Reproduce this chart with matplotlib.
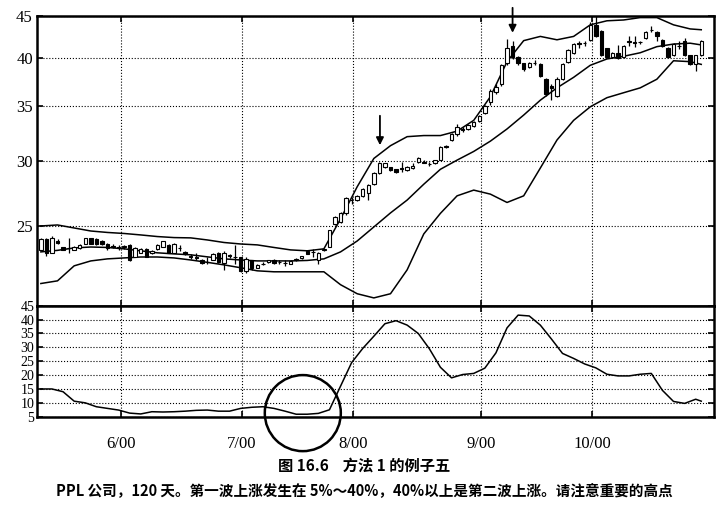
import numpy as np
import matplotlib.pyplot as plt
from matplotlib.patches import Ellipse
from matplotlib.ticker import NullLocator

plt.rcParams['font.family'] = ['Liberation Serif', 'DejaVu Serif']
cjk = ['Noto Sans CJK SC', 'DejaVu Sans']

# 日K线 (PPL 公司, 120 天)
opens = [23.40, 24.10, 23.20, 23.95, 23.55, 23.50, 23.40, 23.50, 23.80, 24.15,
         24.10, 24.00, 23.80, 23.62, 23.57, 23.62, 23.70, 22.95, 23.20, 23.45,
         23.15, 23.45, 23.60, 23.70, 23.20, 23.52, 23.25, 22.97, 22.92, 22.75,
         22.62, 22.75, 23.20, 22.55, 23.02, 22.95, 22.90, 22.05, 22.70, 22.25,
         22.50, 22.58, 22.70, 22.60, 22.55, 22.50, 22.70, 22.85, 23.30, 23.25,
         22.70, 23.35, 23.60, 25.15, 25.25, 25.90, 26.90, 26.90, 27.20, 27.40,
         28.10, 29.00, 29.50, 29.45, 29.30, 29.40, 29.20, 29.40, 29.90, 29.90,
         29.75, 29.80, 30.10, 31.25, 31.80, 32.30, 32.80, 32.80, 33.10, 33.50,
         34.30, 35.40, 36.40, 37.20, 39.40, 41.40, 40.10, 39.40, 39.00, 39.50,
         39.30, 37.70, 37.00, 36.00, 37.70, 39.60, 40.60, 41.70, 41.75, 42.10,
         43.90, 43.20, 41.10, 40.10, 40.60, 40.10, 41.90, 41.80, 41.80, 42.30,
         43.30, 43.00, 42.10, 41.20, 40.30, 41.40, 42.00, 40.30, 39.30, 40.30]
highs = [24.15, 24.15, 24.30, 24.10, 23.60, 24.20, 23.65, 23.80, 24.20, 24.20,
         24.15, 24.05, 23.85, 23.75, 23.70, 23.70, 23.75, 23.55, 23.50, 23.50,
         23.35, 23.75, 24.00, 23.75, 23.85, 23.70, 23.30, 23.10, 23.20, 22.80,
         22.90, 23.15, 23.25, 23.30, 23.10, 23.70, 22.95, 22.95, 22.75, 22.45,
         22.60, 22.75, 22.80, 22.70, 22.70, 22.70, 22.85, 23.00, 23.35, 23.45,
         23.25, 23.45, 24.75, 25.70, 26.00, 27.10, 27.10, 27.30, 27.80, 28.10,
         29.10, 29.90, 29.85, 29.50, 29.35, 29.90, 29.60, 29.80, 30.30, 30.10,
         29.90, 30.10, 31.30, 31.40, 32.40, 33.30, 33.00, 33.30, 33.50, 34.10,
         35.10, 36.70, 37.20, 39.30, 42.20, 41.90, 40.20, 39.50, 39.60, 39.80,
         39.40, 37.80, 37.20, 37.90, 39.40, 41.00, 41.70, 42.00, 42.00, 44.20,
         45.00, 43.30, 41.20, 40.70, 41.50, 41.50, 42.50, 42.50, 42.00, 43.10,
         43.80, 43.10, 42.20, 41.30, 41.70, 41.90, 42.30, 40.40, 40.40, 42.10]
lows = [23.35, 23.00, 23.15, 23.75, 23.35, 23.20, 23.35, 23.45, 23.75, 23.75,
        23.70, 23.70, 23.40, 23.50, 23.40, 23.45, 22.65, 22.90, 23.15, 22.90,
        23.10, 23.40, 23.55, 23.15, 23.15, 23.30, 23.05, 22.80, 22.70, 22.45,
        22.45, 22.70, 22.55, 22.10, 22.85, 22.50, 21.95, 21.90, 22.10, 22.20,
        22.40, 22.55, 22.50, 22.45, 22.35, 22.45, 22.65, 22.80, 23.10, 22.95,
        22.45, 23.30, 23.55, 25.10, 25.20, 25.80, 26.60, 26.80, 27.10, 26.90,
        28.00, 28.90, 29.40, 29.15, 29.00, 29.10, 29.15, 29.35, 29.85, 29.80,
        29.60, 29.70, 30.05, 31.10, 31.70, 32.20, 32.50, 32.70, 33.00, 33.40,
        34.20, 35.10, 36.20, 37.00, 39.20, 39.90, 39.20, 38.60, 38.90, 39.20,
        37.90, 36.00, 35.60, 35.90, 37.60, 39.50, 40.50, 41.20, 41.40, 42.00,
        42.40, 40.20, 40.00, 40.00, 39.90, 40.00, 41.40, 41.30, 41.60, 42.20,
        43.00, 42.00, 41.30, 40.00, 40.20, 41.00, 40.20, 39.20, 38.60, 40.20]
closes = [24.10, 23.20, 24.20, 23.85, 23.40, 23.48, 23.60, 23.72, 24.15, 23.80,
          23.80, 23.75, 23.50, 23.58, 23.53, 23.58, 22.75, 23.50, 23.45, 22.95,
          23.30, 23.70, 23.95, 23.20, 23.80, 23.48, 23.10, 22.93, 22.88, 22.55,
          22.58, 23.10, 22.60, 23.20, 22.98, 22.90, 22.05, 22.80, 22.20, 22.40,
          22.48, 22.72, 22.55, 22.58, 22.52, 22.65, 22.82, 22.97, 23.12, 23.22,
          23.20, 23.42, 24.70, 25.60, 25.90, 27.00, 26.85, 27.20, 27.75, 28.00,
          29.00, 29.80, 29.80, 29.20, 29.05, 29.35, 29.50, 29.60, 30.20, 29.85,
          29.70, 30.05, 31.20, 31.20, 32.30, 33.00, 32.70, 33.20, 33.40, 34.00,
          35.00, 36.50, 36.90, 39.20, 41.10, 40.10, 39.40, 38.80, 39.50, 39.45,
          38.00, 36.20, 36.80, 37.70, 39.30, 40.90, 41.60, 41.65, 41.70, 43.90,
          42.50, 40.30, 40.10, 40.60, 40.00, 41.40, 41.85, 41.75, 41.80, 43.00,
          43.25, 42.50, 41.40, 40.10, 41.60, 41.35, 40.30, 39.30, 40.30, 42.00]

# 布林线 (每 3 天读一个点)
band_days = [0, 3, 6, 9, 12, 15, 18, 21, 24, 27, 30, 33, 36, 39, 42, 45, 48, 51,
             54, 57, 60, 63, 66, 69, 72, 75, 78, 81, 84, 87, 90, 93, 96, 99, 102,
             105, 108, 111, 114, 117, 119]
upper = [25.00, 25.07, 24.86, 24.65, 24.55, 24.48, 24.38, 24.27, 24.20, 24.18,
         24.04, 23.87, 23.77, 23.71, 23.54, 23.38, 23.32, 23.45, 25.50, 27.90,
         30.20, 31.30, 32.10, 32.20, 32.20, 32.60, 33.60, 35.90, 39.60, 42.00,
         42.50, 42.10, 42.50, 43.90, 44.40, 44.50, 44.80, 44.80, 43.90, 43.40,
         43.30]
middle = [23.25, 23.35, 23.51, 23.57, 23.54, 23.45, 23.32, 23.19, 23.12, 23.06,
          22.93, 22.80, 22.73, 22.67, 22.67, 22.67, 22.70, 22.80, 23.25, 23.97,
          24.93, 25.93, 26.88, 28.10, 29.30, 30.06, 30.80, 31.70, 32.80, 34.10,
          35.55, 36.80, 37.90, 39.20, 39.90, 40.20, 40.60, 41.30, 41.60, 41.70,
          41.50]
lower = [21.28, 21.44, 22.36, 22.67, 22.80, 22.86, 22.92, 22.92, 22.86, 22.73,
         22.58, 22.42, 22.24, 22.05, 21.99, 21.99, 21.99, 21.99, 21.21, 20.68,
         20.44, 20.68, 22.11, 24.45, 25.90, 27.20, 27.64, 27.33, 26.70, 27.20,
         29.40, 31.80, 33.60, 34.90, 35.80, 36.30, 36.80, 37.70, 39.70, 39.60,
         39.30]

# 带宽 (%)
bw_days = list(range(0, 120, 2)) + [119]
bandwidth = [15.0, 15.0, 14.0, 10.6, 10.0, 8.6, 8.0, 7.4, 6.3, 6.0,
             6.8, 6.7, 6.8, 7.0, 7.3, 7.4, 7.0, 7.0, 8.0, 8.4,
             8.6, 8.0, 7.0, 5.9, 5.9, 6.2, 7.5, 16.0, 24.5, 29.6,
             34.0, 38.5, 39.6, 38.0, 35.0, 29.5, 22.8, 19.0, 20.2, 20.6,
             22.5, 28.0, 37.0, 41.6, 41.3, 38.0, 33.0, 27.8, 26.0, 24.0,
             22.6, 20.3, 19.7, 19.7, 20.3, 20.6, 14.5, 10.5, 9.8, 11.3,
             10.6]

month_pos = [14.4, 36.2, 56.2, 79.3, 99.3]
month_labels = ['6/00', '7/00', '8/00', '9/00', '10/00']
price_ticks = [25, 30, 35, 40, 45]
bw_ticks = [5, 10, 15, 20, 25, 30, 35, 40, 45]

fig = plt.figure(figsize=(7.28, 5.11), dpi=100)
ax1 = fig.add_axes([0.0508, 0.4018, 0.930, 0.5669])
ax2 = fig.add_axes([0.0508, 0.1845, 0.930, 0.2173], sharex=ax1)

# 上图: K线 + 布林线
days = np.arange(len(closes))
o = np.array(opens)
c = np.array(closes)
up = c >= o
body_lo = np.minimum(o, c)
body_h = np.maximum(np.abs(c - o), 0.02)
ax1.set_yscale('log')
ax1.vlines(days, lows, highs, color='black', lw=0.9, zorder=2)
ax1.bar(days[up], body_h[up], bottom=body_lo[up], width=0.62,
        facecolor='white', edgecolor='black', lw=0.8, zorder=3)
ax1.bar(days[~up], body_h[~up], bottom=body_lo[~up], width=0.62,
        facecolor='black', edgecolor='black', lw=0.8, zorder=3)
for band in (upper, middle, lower):
    ax1.plot(band_days, band, color='black', lw=1.1, zorder=2)

ax1.set_xlim(-0.7, 121.3)
ax1.set_ylim(20.0, 45.0)
ax1.set_yticks(price_ticks, labels=[str(t) for t in price_ticks])
ax1.yaxis.set_minor_locator(NullLocator())
ax1.set_xticks(month_pos)
ax1.tick_params(labelbottom=False)
ax1.grid(True, ls=':', color='black', lw=0.8)

# 两个箭头
arrow = dict(arrowstyle='-|>', color='black', lw=1.3, mutation_scale=11)
ax1.annotate('', xy=(61.1, 31.1), xytext=(61.1, 34.3), arrowprops=arrow)
ax1.annotate('', xy=(85.0, 42.6), xytext=(85.0, 46.4), arrowprops=arrow,
             annotation_clip=False)

# 下图: 带宽
ax2.plot(bw_days, bandwidth, color='black', lw=1.1)
ax2.set_ylim(5, 45)
ax2.set_yticks(bw_ticks)
ax2.set_xticks(month_pos, labels=month_labels)
ax2.grid(True, ls=':', color='black', lw=0.8)
ax2.add_patch(Ellipse((47.2, 6.3), 13.7, 27.4, fill=False, color='black',
                      lw=1.8, clip_on=False))

for ax in (ax1, ax2):
    for s in ax.spines.values():
        s.set_linewidth(1.8)
    ax.tick_params(direction='in', length=4, width=1.2, labelsize=12,
                   right=True, top=True, pad=3)
ax2.tick_params(axis='x', pad=14)
ax2.tick_params(axis='y', pad=2, labelsize=10)

fig.text(0.5, 1 - 466 / 511, '图 16.6    方法 1 的例子五', ha='center', va='center',
         family=cjk, fontsize=11, weight='bold')
fig.text(0.5, 1 - 491 / 511,
         'PPL 公司，120 天。第一波上涨发生在 5%～40%，40%以上是第二波上涨。请注意重要的高点',
         ha='center', va='center', family=cjk, fontsize=10.5, weight='bold')

fig.savefig('out.png', dpi=100)
